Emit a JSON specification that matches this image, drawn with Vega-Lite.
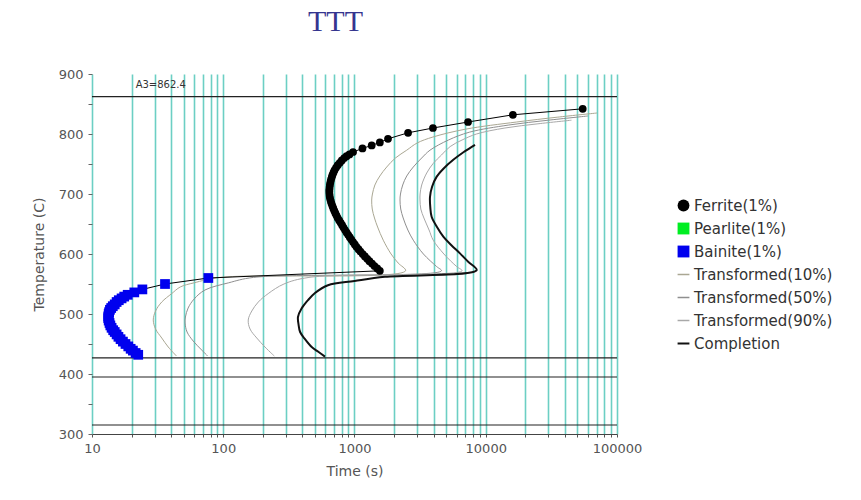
{
  "$schema": "https://vega.github.io/schema/vega-lite/v6.json",
  "width": 525,
  "height": 360,
  "autosize": "none",
  "padding": {"left": 92, "top": 74, "right": 244, "bottom": 66},
  "background": "white",
  "config": {
    "view": {"stroke": null},
    "font": "DejaVu Sans"
  },
  "title": {
    "text": "TTT",
    "font": "Liberation Serif",
    "fontSize": 30,
    "fontWeight": "normal",
    "color": "#35358f",
    "anchor": "middle",
    "frame": "group",
    "dx": -19,
    "offset": 31
  },
  "datasets": {
    "start": [
      {"series": "Ferrite(1%)", "time": 54800, "temp": 842},
      {"series": "Ferrite(1%)", "time": 16100, "temp": 832},
      {"series": "Ferrite(1%)", "time": 7330, "temp": 820},
      {"series": "Ferrite(1%)", "time": 3960, "temp": 810},
      {"series": "Ferrite(1%)", "time": 2560, "temp": 802},
      {"series": "Ferrite(1%)", "time": 1800, "temp": 792},
      {"series": "Ferrite(1%)", "time": 1560, "temp": 786},
      {"series": "Ferrite(1%)", "time": 1352, "temp": 781},
      {"series": "Ferrite(1%)", "time": 1150, "temp": 776},
      {"series": "Ferrite(1%)", "time": 975, "temp": 770},
      {"series": "Ferrite(1%)", "time": 915, "temp": 766},
      {"series": "Ferrite(1%)", "time": 870, "temp": 763},
      {"series": "Ferrite(1%)", "time": 835, "temp": 760},
      {"series": "Ferrite(1%)", "time": 800, "temp": 756},
      {"series": "Ferrite(1%)", "time": 772, "temp": 752},
      {"series": "Ferrite(1%)", "time": 745, "temp": 748},
      {"series": "Ferrite(1%)", "time": 724, "temp": 744},
      {"series": "Ferrite(1%)", "time": 705, "temp": 740},
      {"series": "Ferrite(1%)", "time": 692, "temp": 736},
      {"series": "Ferrite(1%)", "time": 680, "temp": 732},
      {"series": "Ferrite(1%)", "time": 671, "temp": 728},
      {"series": "Ferrite(1%)", "time": 662, "temp": 724},
      {"series": "Ferrite(1%)", "time": 656, "temp": 720},
      {"series": "Ferrite(1%)", "time": 650, "temp": 716},
      {"series": "Ferrite(1%)", "time": 647, "temp": 712},
      {"series": "Ferrite(1%)", "time": 644, "temp": 708},
      {"series": "Ferrite(1%)", "time": 643, "temp": 704},
      {"series": "Ferrite(1%)", "time": 644, "temp": 700},
      {"series": "Ferrite(1%)", "time": 647, "temp": 696},
      {"series": "Ferrite(1%)", "time": 652, "temp": 692},
      {"series": "Ferrite(1%)", "time": 660, "temp": 688},
      {"series": "Ferrite(1%)", "time": 668, "temp": 684},
      {"series": "Ferrite(1%)", "time": 679, "temp": 680},
      {"series": "Ferrite(1%)", "time": 690, "temp": 676},
      {"series": "Ferrite(1%)", "time": 702, "temp": 672},
      {"series": "Ferrite(1%)", "time": 715, "temp": 668},
      {"series": "Ferrite(1%)", "time": 730, "temp": 664},
      {"series": "Ferrite(1%)", "time": 745, "temp": 660},
      {"series": "Ferrite(1%)", "time": 765, "temp": 656},
      {"series": "Ferrite(1%)", "time": 785, "temp": 652},
      {"series": "Ferrite(1%)", "time": 805, "temp": 648},
      {"series": "Ferrite(1%)", "time": 825, "temp": 644},
      {"series": "Ferrite(1%)", "time": 847, "temp": 640},
      {"series": "Ferrite(1%)", "time": 870, "temp": 636},
      {"series": "Ferrite(1%)", "time": 895, "temp": 632},
      {"series": "Ferrite(1%)", "time": 920, "temp": 628},
      {"series": "Ferrite(1%)", "time": 947, "temp": 624},
      {"series": "Ferrite(1%)", "time": 975, "temp": 620},
      {"series": "Ferrite(1%)", "time": 1005, "temp": 616},
      {"series": "Ferrite(1%)", "time": 1035, "temp": 612},
      {"series": "Ferrite(1%)", "time": 1072, "temp": 608},
      {"series": "Ferrite(1%)", "time": 1110, "temp": 604},
      {"series": "Ferrite(1%)", "time": 1155, "temp": 600},
      {"series": "Ferrite(1%)", "time": 1200, "temp": 596},
      {"series": "Ferrite(1%)", "time": 1250, "temp": 592},
      {"series": "Ferrite(1%)", "time": 1300, "temp": 588},
      {"series": "Ferrite(1%)", "time": 1360, "temp": 584},
      {"series": "Ferrite(1%)", "time": 1420, "temp": 580},
      {"series": "Ferrite(1%)", "time": 1490, "temp": 576},
      {"series": "Ferrite(1%)", "time": 1560, "temp": 572},
      {"series": "Bainite(1%)", "time": 77, "temp": 560},
      {"series": "Bainite(1%)", "time": 36, "temp": 550},
      {"series": "Bainite(1%)", "time": 24.2, "temp": 541},
      {"series": "Bainite(1%)", "time": 21, "temp": 536},
      {"series": "Bainite(1%)", "time": 18.7, "temp": 532},
      {"series": "Bainite(1%)", "time": 17.6, "temp": 529},
      {"series": "Bainite(1%)", "time": 16.8, "temp": 526},
      {"series": "Bainite(1%)", "time": 16, "temp": 523},
      {"series": "Bainite(1%)", "time": 15.4, "temp": 520},
      {"series": "Bainite(1%)", "time": 14.9, "temp": 516},
      {"series": "Bainite(1%)", "time": 14.4, "temp": 513},
      {"series": "Bainite(1%)", "time": 14, "temp": 510},
      {"series": "Bainite(1%)", "time": 13.7, "temp": 507},
      {"series": "Bainite(1%)", "time": 13.5, "temp": 503},
      {"series": "Bainite(1%)", "time": 13.4, "temp": 500},
      {"series": "Bainite(1%)", "time": 13.3, "temp": 496},
      {"series": "Bainite(1%)", "time": 13.3, "temp": 493},
      {"series": "Bainite(1%)", "time": 13.4, "temp": 489},
      {"series": "Bainite(1%)", "time": 13.6, "temp": 485},
      {"series": "Bainite(1%)", "time": 13.8, "temp": 481},
      {"series": "Bainite(1%)", "time": 14.1, "temp": 477},
      {"series": "Bainite(1%)", "time": 14.5, "temp": 473},
      {"series": "Bainite(1%)", "time": 14.9, "temp": 470},
      {"series": "Bainite(1%)", "time": 15.4, "temp": 466},
      {"series": "Bainite(1%)", "time": 15.9, "temp": 462},
      {"series": "Bainite(1%)", "time": 16.5, "temp": 458},
      {"series": "Bainite(1%)", "time": 17.2, "temp": 454},
      {"series": "Bainite(1%)", "time": 18, "temp": 450},
      {"series": "Bainite(1%)", "time": 18.9, "temp": 446},
      {"series": "Bainite(1%)", "time": 19.7, "temp": 442},
      {"series": "Bainite(1%)", "time": 20.5, "temp": 439},
      {"series": "Bainite(1%)", "time": 21.5, "temp": 435},
      {"series": "Bainite(1%)", "time": 22.5, "temp": 432}
    ],
    "curves": [
      {"series": "Transformed(10%)", "time": 70500, "temp": 835},
      {"series": "Transformed(10%)", "time": 35000, "temp": 828},
      {"series": "Transformed(10%)", "time": 17200, "temp": 820},
      {"series": "Transformed(10%)", "time": 7000, "temp": 808},
      {"series": "Transformed(10%)", "time": 3960, "temp": 795},
      {"series": "Transformed(10%)", "time": 3000, "temp": 785},
      {"series": "Transformed(10%)", "time": 2500, "temp": 773},
      {"series": "Transformed(10%)", "time": 2050, "temp": 760},
      {"series": "Transformed(10%)", "time": 1760, "temp": 745},
      {"series": "Transformed(10%)", "time": 1560, "temp": 730},
      {"series": "Transformed(10%)", "time": 1430, "temp": 715},
      {"series": "Transformed(10%)", "time": 1370, "temp": 700},
      {"series": "Transformed(10%)", "time": 1352, "temp": 690},
      {"series": "Transformed(10%)", "time": 1365, "temp": 675},
      {"series": "Transformed(10%)", "time": 1420, "temp": 660},
      {"series": "Transformed(10%)", "time": 1500, "temp": 645},
      {"series": "Transformed(10%)", "time": 1656, "temp": 623},
      {"series": "Transformed(10%)", "time": 1900, "temp": 600},
      {"series": "Transformed(10%)", "time": 2150, "temp": 585},
      {"series": "Transformed(10%)", "time": 2450, "temp": 572},
      {"series": "Transformed(10%)", "time": 95, "temp": 561},
      {"series": "Transformed(10%)", "time": 60, "temp": 552},
      {"series": "Transformed(10%)", "time": 47, "temp": 545},
      {"series": "Transformed(10%)", "time": 40.5, "temp": 534},
      {"series": "Transformed(10%)", "time": 34, "temp": 520},
      {"series": "Transformed(10%)", "time": 30.5, "temp": 505},
      {"series": "Transformed(10%)", "time": 29.3, "temp": 490},
      {"series": "Transformed(10%)", "time": 30.5, "temp": 475},
      {"series": "Transformed(10%)", "time": 34, "temp": 460},
      {"series": "Transformed(10%)", "time": 38.1, "temp": 445},
      {"series": "Transformed(10%)", "time": 44, "temp": 430},
      {"series": "Transformed(50%)", "time": 60000, "temp": 830},
      {"series": "Transformed(50%)", "time": 30000, "temp": 823},
      {"series": "Transformed(50%)", "time": 15000, "temp": 815},
      {"series": "Transformed(50%)", "time": 7500, "temp": 803},
      {"series": "Transformed(50%)", "time": 5200, "temp": 790},
      {"series": "Transformed(50%)", "time": 3760, "temp": 773},
      {"series": "Transformed(50%)", "time": 3250, "temp": 760},
      {"series": "Transformed(50%)", "time": 2805, "temp": 745},
      {"series": "Transformed(50%)", "time": 2500, "temp": 730},
      {"series": "Transformed(50%)", "time": 2330, "temp": 715},
      {"series": "Transformed(50%)", "time": 2240, "temp": 700},
      {"series": "Transformed(50%)", "time": 2222, "temp": 690},
      {"series": "Transformed(50%)", "time": 2250, "temp": 675},
      {"series": "Transformed(50%)", "time": 2350, "temp": 660},
      {"series": "Transformed(50%)", "time": 2550, "temp": 640},
      {"series": "Transformed(50%)", "time": 2805, "temp": 623},
      {"series": "Transformed(50%)", "time": 3350, "temp": 600},
      {"series": "Transformed(50%)", "time": 4227, "temp": 579},
      {"series": "Transformed(50%)", "time": 4600, "temp": 572},
      {"series": "Transformed(50%)", "time": 170, "temp": 561},
      {"series": "Transformed(50%)", "time": 110, "temp": 552},
      {"series": "Transformed(50%)", "time": 72.6, "temp": 540},
      {"series": "Transformed(50%)", "time": 60, "temp": 525},
      {"series": "Transformed(50%)", "time": 54, "temp": 510},
      {"series": "Transformed(50%)", "time": 51.5, "temp": 495},
      {"series": "Transformed(50%)", "time": 51.2, "temp": 485},
      {"series": "Transformed(50%)", "time": 53, "temp": 470},
      {"series": "Transformed(50%)", "time": 59, "temp": 455},
      {"series": "Transformed(50%)", "time": 68.5, "temp": 440},
      {"series": "Transformed(50%)", "time": 76, "temp": 430},
      {"series": "Transformed(90%)", "time": 45000, "temp": 823},
      {"series": "Transformed(90%)", "time": 25000, "temp": 817},
      {"series": "Transformed(90%)", "time": 14000, "temp": 810},
      {"series": "Transformed(90%)", "time": 8500, "temp": 800},
      {"series": "Transformed(90%)", "time": 6600, "temp": 790},
      {"series": "Transformed(90%)", "time": 5350, "temp": 779},
      {"series": "Transformed(90%)", "time": 4600, "temp": 765},
      {"series": "Transformed(90%)", "time": 3980, "temp": 751},
      {"series": "Transformed(90%)", "time": 3550, "temp": 735},
      {"series": "Transformed(90%)", "time": 3250, "temp": 715},
      {"series": "Transformed(90%)", "time": 3160, "temp": 700},
      {"series": "Transformed(90%)", "time": 3155, "temp": 690},
      {"series": "Transformed(90%)", "time": 3200, "temp": 675},
      {"series": "Transformed(90%)", "time": 3380, "temp": 660},
      {"series": "Transformed(90%)", "time": 3700, "temp": 640},
      {"series": "Transformed(90%)", "time": 3980, "temp": 623},
      {"series": "Transformed(90%)", "time": 4800, "temp": 600},
      {"series": "Transformed(90%)", "time": 6010, "temp": 579},
      {"series": "Transformed(90%)", "time": 6600, "temp": 572},
      {"series": "Transformed(90%)", "time": 450, "temp": 561},
      {"series": "Transformed(90%)", "time": 290, "temp": 550},
      {"series": "Transformed(90%)", "time": 220, "temp": 534},
      {"series": "Transformed(90%)", "time": 185, "temp": 520},
      {"series": "Transformed(90%)", "time": 165, "temp": 505},
      {"series": "Transformed(90%)", "time": 155, "temp": 490},
      {"series": "Transformed(90%)", "time": 160, "temp": 475},
      {"series": "Transformed(90%)", "time": 180, "temp": 460},
      {"series": "Transformed(90%)", "time": 208, "temp": 445},
      {"series": "Transformed(90%)", "time": 234, "temp": 434},
      {"series": "Transformed(90%)", "time": 245, "temp": 430}
    ],
    "completion": [
      {"series": "Completion", "time": 8280, "temp": 782},
      {"series": "Completion", "time": 6800, "temp": 770},
      {"series": "Completion", "time": 5660, "temp": 757},
      {"series": "Completion", "time": 4800, "temp": 743},
      {"series": "Completion", "time": 4230, "temp": 729},
      {"series": "Completion", "time": 3900, "temp": 712},
      {"series": "Completion", "time": 3760, "temp": 695},
      {"series": "Completion", "time": 3780, "temp": 678},
      {"series": "Completion", "time": 3870, "temp": 662},
      {"series": "Completion", "time": 4250, "temp": 645},
      {"series": "Completion", "time": 4750, "temp": 629},
      {"series": "Completion", "time": 5450, "temp": 615},
      {"series": "Completion", "time": 6360, "temp": 601},
      {"series": "Completion", "time": 7350, "temp": 587},
      {"series": "Completion", "time": 8530, "temp": 573},
      {"series": "Completion", "time": 1706, "temp": 562},
      {"series": "Completion", "time": 1000, "temp": 555},
      {"series": "Completion", "time": 628, "temp": 548},
      {"series": "Completion", "time": 500, "temp": 535},
      {"series": "Completion", "time": 442, "temp": 523},
      {"series": "Completion", "time": 395, "temp": 509},
      {"series": "Completion", "time": 371, "temp": 495},
      {"series": "Completion", "time": 375, "temp": 482},
      {"series": "Completion", "time": 385, "temp": 470},
      {"series": "Completion", "time": 420, "temp": 458},
      {"series": "Completion", "time": 472, "temp": 445},
      {"series": "Completion", "time": 530, "temp": 437},
      {"series": "Completion", "time": 596, "temp": 429}
    ],
    "hlines": [
      {"temp": 862.4},
      {"temp": 427},
      {"temp": 395},
      {"temp": 315}
    ],
    "notes": [
      {"time": 21.5, "temp": 881, "label": "A3=862.4"}
    ]
  },
  "encoding": {
    "x": {
      "field": "time",
      "type": "quantitative",
      "scale": {"type": "log", "domain": [10, 100000], "nice": false},
      "axis": {
        "title": "Time (s)",
        "values": [10, 20, 30, 40, 50, 60, 70, 80, 90, 100, 200, 300, 400, 500, 600, 700, 800, 900, 1000, 2000, 3000, 4000, 5000, 6000, 7000, 8000, 9000, 10000, 20000, 30000, 40000, 50000, 60000, 70000, 80000, 90000, 100000],
        "format": "d",
        "labelExpr": "indexof([10, 100, 1000, 10000, 100000], datum.value) >= 0 ? datum.label : ''",
        "labelOverlap": false,
        "labelFlush": false,
        "grid": true,
        "gridColor": "#6ccfc4",
        "gridWidth": 1.6,
        "gridOpacity": 1,
        "domainColor": "#444",
        "tickColor": "#555",
        "tickSize": 3,
        "labelFont": "DejaVu Sans",
        "labelFontSize": 13,
        "labelColor": "#555",
        "labelPadding": 5,
        "titleFont": "DejaVu Sans",
        "titleFontSize": 14,
        "titleFontWeight": "normal",
        "titleColor": "#555",
        "titlePadding": 9
      }
    },
    "y": {
      "field": "temp",
      "type": "quantitative",
      "scale": {"domain": [300, 900], "nice": false, "zero": false},
      "axis": {
        "title": "Temperature (C)",
        "values": [300, 350, 400, 450, 500, 550, 600, 650, 700, 750, 800, 850, 900],
        "labelExpr": "datum.value % 100 === 0 ? datum.label : ''",
        "labelOverlap": false,
        "labelFlush": false,
        "grid": false,
        "domain": false,
        "tickColor": "#666",
        "tickSize": 4,
        "labelFont": "DejaVu Sans",
        "labelFontSize": 13,
        "labelColor": "#555",
        "labelPadding": 5,
        "titleFont": "DejaVu Sans",
        "titleFontSize": 14,
        "titleFontWeight": "normal",
        "titleColor": "#555",
        "titlePadding": 12
      }
    }
  },
  "layer": [
    {
      "data": {"name": "hlines"},
      "mark": {"type": "rule", "color": "#222", "strokeWidth": 1.2},
      "encoding": {"x": null}
    },
    {
      "data": {"name": "notes"},
      "mark": {"type": "text", "align": "left", "baseline": "middle", "fontSize": 10, "color": "#333", "font": "DejaVu Sans"},
      "encoding": {"text": {"field": "label"}}
    },
    {
      "data": {"name": "curves"},
      "mark": {"type": "line", "strokeWidth": 1, "interpolate": "catmull-rom"},
      "encoding": {
        "order": {"value": null},
        "color": {
          "field": "series",
          "type": "nominal",
          "scale": {
            "domain": ["Ferrite(1%)", "Pearlite(1%)", "Bainite(1%)", "Transformed(10%)", "Transformed(50%)", "Transformed(90%)", "Completion"],
            "range": ["#000000", "#00ee22", "#0000ee", "#aaa793", "#8f8f8f", "#a8a8a8", "#111111"]
          },
          "legend": {
            "title": null,
            "orient": "none",
            "legendX": 584,
            "legendY": 124,
            "symbolSize": 140,
            "rowPadding": 7,
            "labelFont": "DejaVu Sans",
            "labelFontSize": 15,
            "labelColor": "#333",
            "labelOffset": 3,
            "encode": {
              "symbols": {
                "update": {
                  "shape": {"signal": "datum.value === 'Ferrite(1%)' ? 'circle' : ((datum.value === 'Pearlite(1%)' || datum.value === 'Bainite(1%)') ? 'square' : 'stroke')"},
                  "fill": {"scale": "color", "field": "value"},
                  "stroke": {"scale": "color", "field": "value"},
                  "strokeWidth": {"signal": "indexof(['Ferrite(1%)', 'Pearlite(1%)', 'Bainite(1%)'], datum.value) >= 0 ? 0 : (datum.value === 'Completion' ? 2 : 1.5)"},
                  "opacity": {"value": 1},
                  "fillOpacity": {"value": 1},
                  "strokeOpacity": {"value": 1}
                }
              }
            }
          }
        }
      }
    },
    {
      "data": {"name": "completion"},
      "mark": {"type": "line", "strokeWidth": 2, "interpolate": "catmull-rom"},
      "encoding": {
        "order": {"value": null},
        "color": {"field": "series", "type": "nominal"}
      }
    },
    {
      "data": {"name": "start"},
      "mark": {"type": "line", "strokeWidth": 1, "color": "#000"},
      "encoding": {"order": {"value": null}}
    },
    {
      "data": {"name": "start"},
      "transform": [{"filter": "datum.series === 'Ferrite(1%)'"}],
      "mark": {"type": "point", "shape": "circle", "filled": true, "size": 60, "opacity": 1},
      "encoding": {"color": {"field": "series", "type": "nominal"}}
    },
    {
      "data": {"name": "start"},
      "transform": [{"filter": "datum.series === 'Bainite(1%)'"}],
      "mark": {"type": "point", "shape": "square", "filled": true, "size": 95, "opacity": 1},
      "encoding": {"color": {"field": "series", "type": "nominal"}}
    }
  ]
}
